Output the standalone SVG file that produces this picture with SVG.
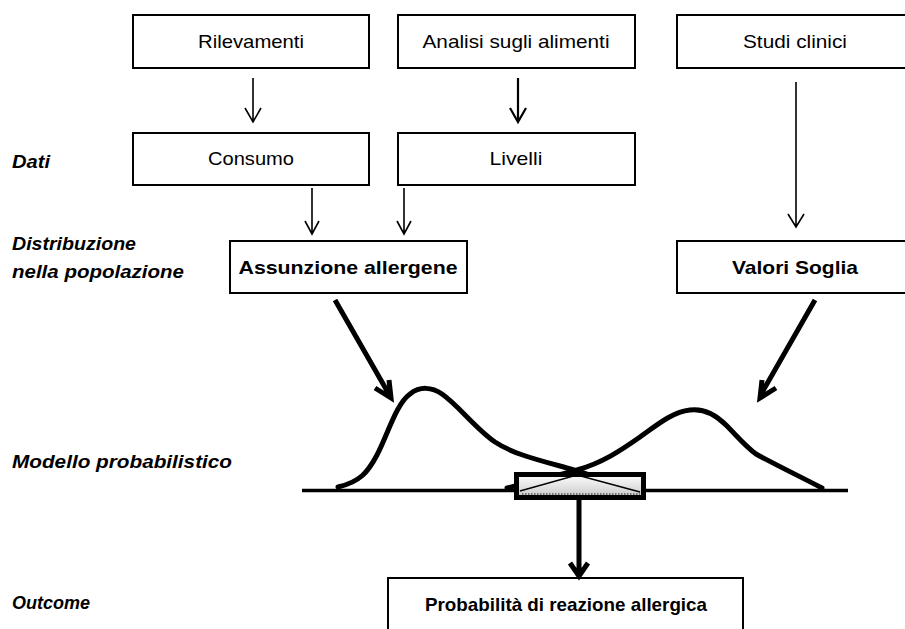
<svg xmlns="http://www.w3.org/2000/svg" width="905" height="629" viewBox="0 0 905 629">
<style>
.box{fill:#fff;stroke:#000;stroke-width:2}
.t{font-family:"Liberation Sans",Arial,sans-serif;font-size:19px;fill:#000;text-anchor:middle}
.b{font-weight:bold;font-size:18.5px}
.lab{font-family:"Liberation Sans",Arial,sans-serif;font-size:18px;font-weight:bold;font-style:italic;fill:#000}
.thin{fill:none;stroke:#000;stroke-width:1.6}
.mid{fill:none;stroke:#000;stroke-width:2.2}
.thick{fill:none;stroke:#000;stroke-width:5;stroke-linejoin:miter}
.curve{fill:none;stroke:#000;stroke-width:5;stroke-linecap:round;stroke-linejoin:round}
</style>
<defs>
<linearGradient id="g" x1="0" y1="0" x2="0" y2="1">
<stop offset="0" stop-color="#ffffff"/>
<stop offset="1" stop-color="#c8c8c8"/>
</linearGradient>
</defs>
<rect width="905" height="629" fill="#fff"/>

<g id="labels">
<text class="lab" x="12" y="168" textLength="38" lengthAdjust="spacingAndGlyphs">Dati</text>
<text class="lab" x="12" y="250" textLength="124" lengthAdjust="spacingAndGlyphs">Distribuzione</text>
<text class="lab" x="12" y="278" textLength="172" lengthAdjust="spacingAndGlyphs">nella popolazione</text>
<text class="lab" x="12" y="468" textLength="220" lengthAdjust="spacingAndGlyphs">Modello probabilistico</text>
<text class="lab" x="12" y="609" textLength="78" lengthAdjust="spacingAndGlyphs">Outcome</text>
</g>

<g id="rilevamenti">
<rect class="box" x="133" y="15" width="236" height="53"/>
<text class="t" x="251" y="48" textLength="106" lengthAdjust="spacingAndGlyphs">Rilevamenti</text>
</g>
<g id="analisi">
<rect class="box" x="398" y="15" width="237" height="53"/>
<text class="t" x="516" y="48" textLength="187" lengthAdjust="spacingAndGlyphs">Analisi sugli alimenti</text>
</g>
<g id="studi">
<rect class="box" x="677" y="15" width="236" height="53"/>
<text class="t" x="795" y="48" textLength="104" lengthAdjust="spacingAndGlyphs">Studi clinici</text>
</g>
<g id="consumo">
<rect class="box" x="133" y="133" width="236" height="52"/>
<text class="t" x="251" y="165" textLength="86" lengthAdjust="spacingAndGlyphs">Consumo</text>
</g>
<g id="livelli">
<rect class="box" x="398" y="133" width="237" height="52"/>
<text class="t" x="516" y="165" textLength="53" lengthAdjust="spacingAndGlyphs">Livelli</text>
</g>
<g id="assunzione">
<rect class="box" x="230" y="241" width="237" height="52"/>
<text class="t b" x="348" y="274" textLength="219" lengthAdjust="spacingAndGlyphs">Assunzione allergene</text>
</g>
<g id="valori">
<rect class="box" x="677" y="241" width="236" height="52"/>
<text class="t b" x="795" y="274" textLength="126" lengthAdjust="spacingAndGlyphs">Valori Soglia</text>
</g>
<g id="probabilita">
<rect class="box" x="388" y="578" width="355" height="60"/>
<text class="t b" x="566" y="611" textLength="282" lengthAdjust="spacingAndGlyphs">Probabilità di reazione allergica</text>
</g>

<g id="modello">
<line x1="302" y1="490.5" x2="848" y2="490.5" stroke="#000" stroke-width="3.5"/>
<path class="curve" d="M338,487 C360,482 368,472 377,455 C388,434 396,404 410,394 C420,386 432,387 442,394 C458,405 475,428 495,442 C510,452 530,458 560,466 C585,473 610,482 637,490"/>
<path class="curve" d="M507,488 C535,481 556,476 577,470 C602,463 620,451 640,437 C657,425 672,412 690,410 C705,408 716,415 726,425 C737,436 745,446 756,454 C772,463 795,474 822,488"/>
<rect x="516.5" y="474.5" width="127" height="23" fill="url(#g)" stroke="#000" stroke-width="5"/>
<path d="M520,491 L577,475 L640,492" fill="none" stroke="#000" stroke-width="1.5"/>
<line x1="522" y1="494" x2="640" y2="494" stroke="#555" stroke-width="1.5" stroke-dasharray="1.5,1.5"/>
</g>

<g id="connectors">
<path class="thin" d="M253,78 V122 M245,108 L253,122 L261,108"/>
<path class="mid" d="M518,78 V122 M510,108 L518,122 L526,108"/>
<path class="thin" d="M312,188 V234 M305,221 L312,234 L319,221"/>
<path class="thin" d="M404,188 V234 M397,221 L404,234 L411,221"/>
<path class="thin" d="M796,82 V227 M788,214 L796,227 L804,214"/>
<path class="thick" d="M335,300 L390,396 M375,388 L391,398 L389,380"/>
<path class="thick" d="M815,300 L760,396 M762,380 L760,398 L776,388"/>
<path class="thick" d="M579,500 V574 M570,563 L579,576 L588,563"/>
</g>
</svg>
